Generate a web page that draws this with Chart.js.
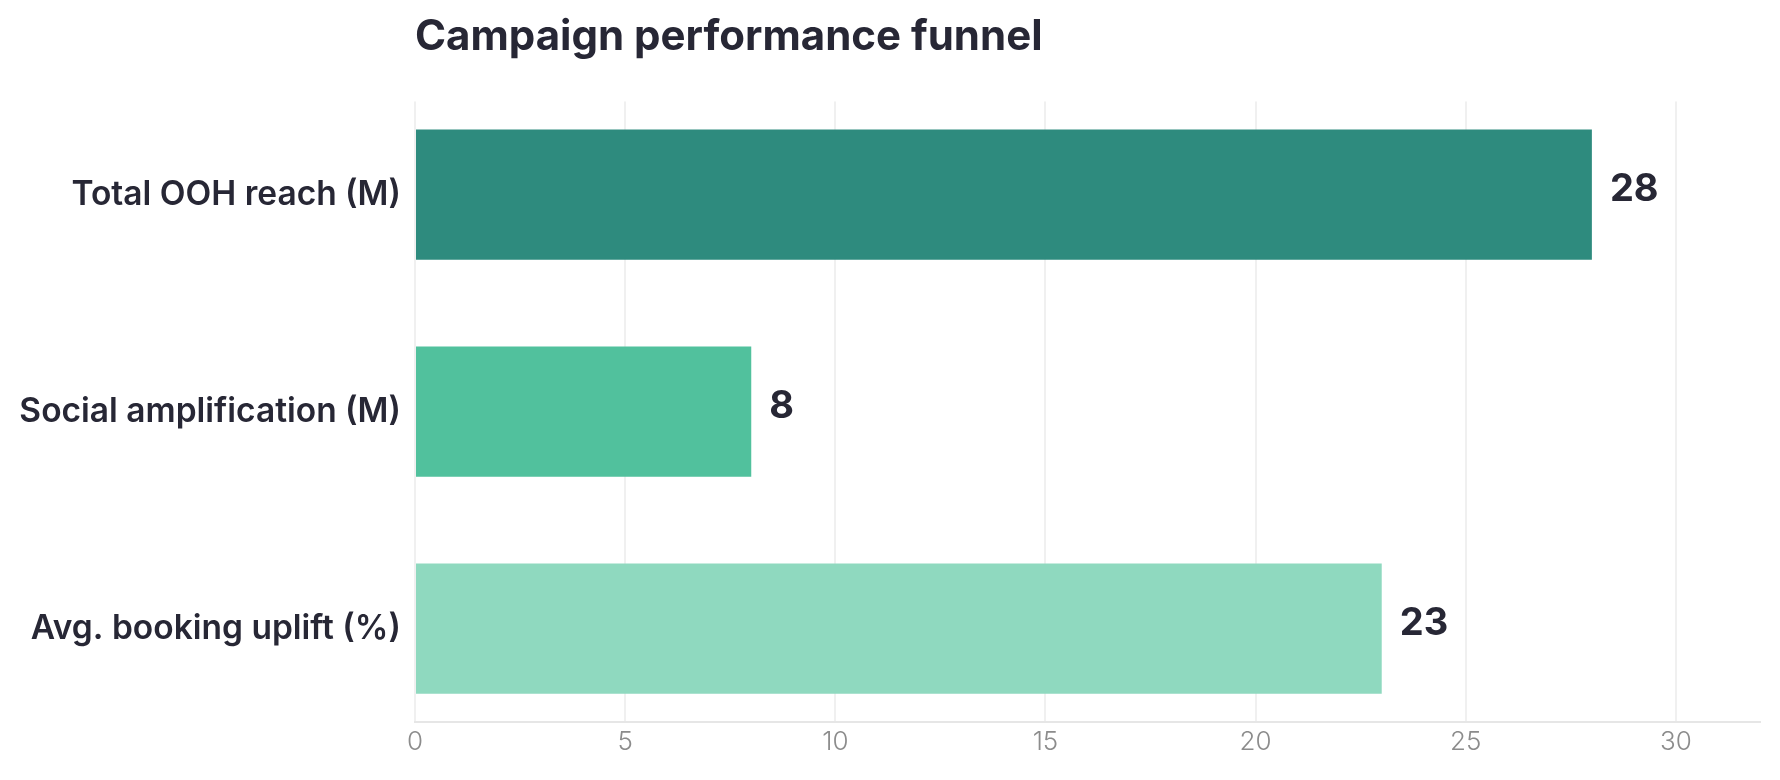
<!DOCTYPE html>
<html lang="en">
<head>
    <meta charset="UTF-8">
    <title>Campaign performance funnel</title>
    <script src="https://cdn.jsdelivr.net/npm/chart.js"></script>
    <style>
        body {
            margin: 0;
            padding: 0;
            background: #ffffff;
        }
        .wrap {
            width: 1780px;
            height: 780px;
        }
    </style>
</head>
<body>
    <div class="wrap">
        <canvas id="funnelChart"></canvas>
    </div>

    <script>
        // Chart data
        const categories = ['Total OOH reach (M)', 'Social amplification (M)', 'Avg. booking uplift (%)'];
        const values = [28, 8, 23];
        const barColors = ['#2e8b7e', '#51c19d', '#8fd9bf'];
        const xTicks = [0, 5, 10, 15, 20, 25, 30];

        const textColor = '#272735';

        // Writes the value just past the end of each bar
        const valueLabels = {
            id: 'valueLabels',
            afterDatasetsDraw(chart) {
                const ctx = chart.ctx;
                const meta = chart.getDatasetMeta(0);
                ctx.save();
                ctx.font = '700 38px Inter';
                ctx.fillStyle = textColor;
                ctx.textAlign = 'left';
                ctx.textBaseline = 'middle';
                meta.data.forEach((bar, i) => {
                    ctx.fillText(String(values[i]), bar.x + 18, bar.y - 5);
                });
                ctx.restore();
            }
        };

        const ctx = document.getElementById('funnelChart').getContext('2d');
        new Chart(ctx, {
            type: 'bar',
            data: {
                datasets: [{
                    data: values.map((v, i) => ({ x: v, y: i })),
                    backgroundColor: barColors,
                    borderWidth: 0,
                    categoryPercentage: 0.75,
                    barPercentage: 0.8
                }]
            },
            options: {
                indexAxis: 'y',
                responsive: true,
                maintainAspectRatio: false,
                animation: false,
                layout: {
                    padding: { left: 0, right: 20, top: 0, bottom: 0 }
                },
                plugins: {
                    legend: { display: false },
                    tooltip: { enabled: false },
                    title: {
                        display: true,
                        text: 'Campaign performance funnel',
                        align: 'start',
                        fullSize: false,
                        color: textColor,
                        font: { family: 'Inter', size: 42, weight: '700' },
                        padding: { top: 12, bottom: 39 }
                    }
                },
                scales: {
                    x: {
                        type: 'linear',
                        min: 0,
                        max: 32,
                        afterFit: axis => { axis.height = 58; },
                        afterBuildTicks: axis => { axis.ticks = xTicks.map(v => ({ value: v })); },
                        grid: { color: '#f0f0f0', lineWidth: 2, drawTicks: false },
                        border: { display: true, color: '#e6e6e6', width: 2 },
                        ticks: {
                            color: '#8c8c8c',
                            padding: 5,
                            font: { family: 'Inter', size: 26, weight: '300' }
                        }
                    },
                    y: {
                        type: 'linear',
                        reverse: true,
                        offset: false,
                        min: -0.43,
                        max: 2.43,
                        afterFit: axis => { axis.width = 415; },
                        afterBuildTicks: axis => { axis.ticks = categories.map((_, i) => ({ value: i })); },
                        grid: { display: false, offset: false },
                        border: { display: false },
                        ticks: {
                            color: textColor,
                            padding: 6,
                            font: { family: 'Inter', size: 33.5, weight: '600' },
                            callback: value => categories[value]
                        }
                    }
                }
            },
            plugins: [valueLabels]
        });
    </script>
</body>
</html>
